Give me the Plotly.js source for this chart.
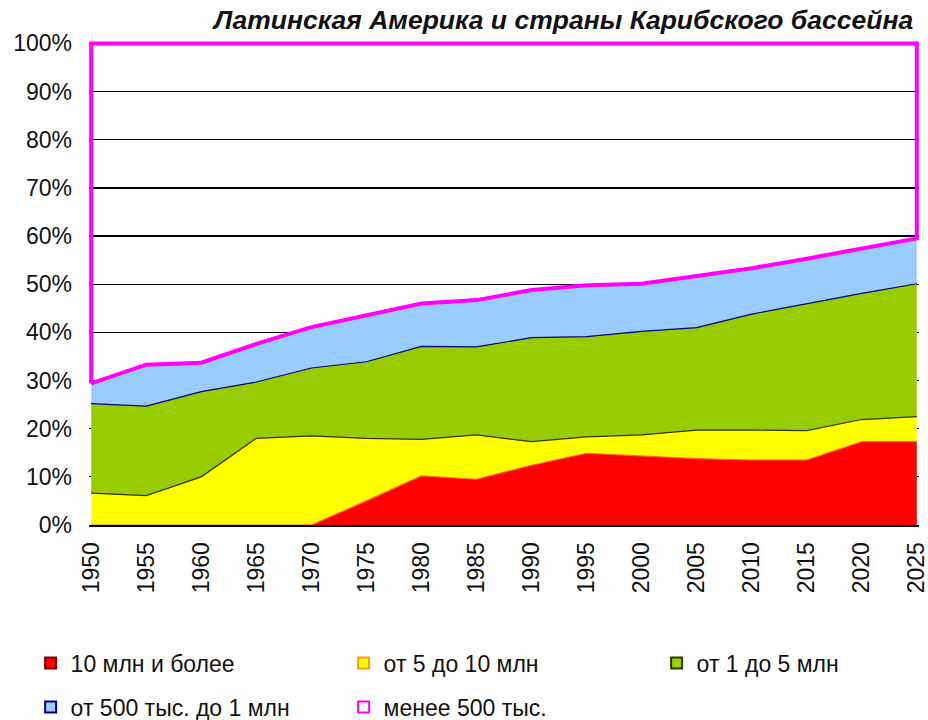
<!DOCTYPE html>
<html>
<head>
<meta charset="utf-8">
<script src="https://cdn.plot.ly/plotly-3.0.1.min.js"></script>
<style>html,body{margin:0;padding:0;background:#fff;}#chart{width:928px;height:720px;}</style>
</head>
<body>
<div id="chart"></div>
<script>
var years = [1950,1955,1960,1965,1970,1975,1980,1985,1990,1995,2000,2005,2010,2015,2020,2025];
var yearLabels = ['1950','1955','1960','1965','1970','1975','1980','1985','1990','1995','2000','2005','2010','2015','2020','2025'];
var red    = [0,0,0,0,0,5.0,10.2,9.5,12.4,14.9,14.3,13.8,13.5,13.5,17.3,17.3];
var yellow = [6.6,6.1,10.0,18.0,18.5,13.0,7.6,9.2,4.9,3.4,4.4,5.9,6.2,6.1,4.6,5.2];
var green  = [18.6,18.6,17.7,11.7,14.1,15.9,19.3,18.3,21.6,20.8,21.5,21.3,24.1,26.4,26.2,27.6];
var blue   = [4.2,8.6,6.0,7.9,8.5,9.7,8.9,9.7,9.9,10.7,9.9,10.7,9.5,9.3,9.3,9.4];
var small  = [70.6,66.7,66.3,62.4,58.9,56.4,54.0,53.3,51.2,50.2,49.9,48.3,46.7,44.7,42.6,40.5];
var seriesNames = ['10 млн и более','от 5 до 10 млн','от 1 до 5 млн','от 500 тыс. до 1 млн','менее 500 тыс.'];
var yTickVals = [0,10,20,30,40,50,60,70,80,90,100];
var yTickText = ['0%','10%','20%','30%','40%','50%','60%','70%','80%','90%','100%'];
var titleText = 'Латинская Америка и страны Карибского бассейна';

var fillColors = ['#ff0000','#ffff00','#99cc00','#99ccff','#ffffff'];
var edgeColors = ['#800000','#ff9900','#333300','#000080','#ff00ff'];
var topLines   = ['#ff6600','#333300','#000080','#ff00ff'];

var cumB = years.map(function(_, i){ return red[i]+yellow[i]+green[i]+blue[i]; });
var topV = cumB.map(function(v, i){ return v + small[i]; });

var stackVals = [red, yellow, green, blue];
var traces = [];
stackVals.forEach(function(vals, k){
  traces.push({
    type:'scatter', mode:'lines', x:years, y:vals, stackgroup:'one',
    fillcolor:fillColors[k], line:{color:topLines[k], width:1.2},
    showlegend:false, hoverinfo:'skip', name:seriesNames[k]
  });
});
var polyX = years.concat(years.slice().reverse()).concat([years[0]]);
var polyY = cumB.concat(topV.slice().reverse()).concat([cumB[0]]);
traces.push({
  type:'scatter', mode:'lines', x:polyX, y:polyY,
  line:{color:'#ff00ff', width:4},
  showlegend:false, hoverinfo:'skip', name:seriesNames[4]
});
// legend entries
var legendWidths = [268, 268, 160, 268, 190];
for (var k=0;k<5;k++){
  traces.push({
    type:'scatter', mode:'markers', x:[null], y:[null], name:seriesNames[k],
    marker:{symbol:'square', size:11, color:fillColors[k], line:{color:edgeColors[k], width:2}},
    legend: k<3 ? 'legend' : 'legend2', hoverinfo:'skip',
    legendwidth: legendWidths[k]
  });
}

var fnt = 'Liberation Sans, Arial, sans-serif';
var layout = {
  width:928, height:720,
  paper_bgcolor:'#ffffff', plot_bgcolor:'#ffffff',
  margin:{l:88.8, r:8.8, t:40.6, b:195},
  font:{family:fnt, size:23, color:'#111'},
  title:{text:titleText, xref:'container', x:0.984, xanchor:'right', yref:'container', y:0.986, yanchor:'top',
         font:{family:fnt, size:26.5, weight:'bold', style:'italic', color:'#111'}},
  xaxis:{range:[1949.8,2025.2], tickmode:'array', tickvals:years, ticktext:yearLabels, tickangle:-90,
         showgrid:false, zeroline:false, showline:true, linecolor:'#000', linewidth:2, ticks:'',
         ticklabelstandoff:6, ticklabeloverflow:'allow', tickfont:{size:23, color:'#111'}},
  yaxis:{range:[0,100.5], tickmode:'array', tickvals:yTickVals, ticktext:yTickText,
         showgrid:true, gridcolor:'#000', gridwidth:1.3, zeroline:false, showline:false, ticks:'',
         ticklabelstandoff:16, tickfont:{size:23, color:'#111'}},
  legend:{orientation:'h', traceorder:'normal', xref:'container', yref:'container', x:0.033, y:0.079, xanchor:'left', yanchor:'middle',
          entrywidthmode:'pixels', font:{size:23, color:'#111'}, bgcolor:'rgba(0,0,0,0)'},
  legend2:{orientation:'h', traceorder:'normal', xref:'container', yref:'container', x:0.033, y:0.018, xanchor:'left', yanchor:'middle',
          entrywidthmode:'pixels', font:{size:23, color:'#111'}, bgcolor:'rgba(0,0,0,0)'},
  showlegend:true
};
Plotly.newPlot('chart', traces, layout, {displayModeBar:false, staticPlot:true});
</script>
</body>
</html>
